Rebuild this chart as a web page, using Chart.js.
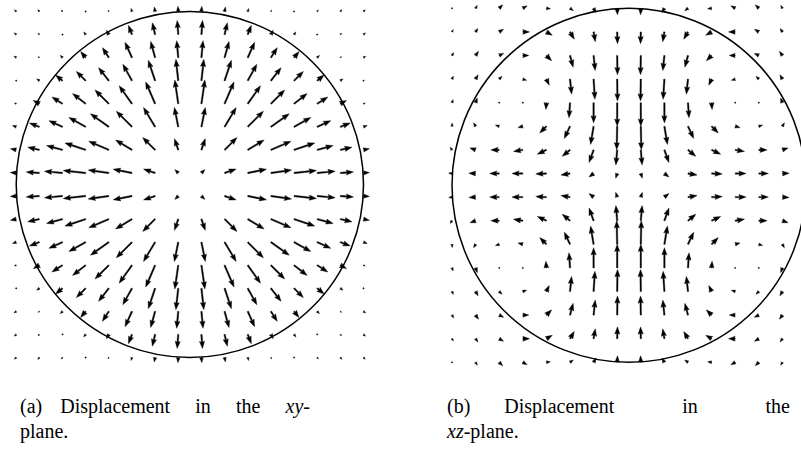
<!DOCTYPE html>
<html>
<head>
<meta charset="utf-8">
<title>Displacement fields</title>
<script src="https://cdn.jsdelivr.net/npm/chart.js@4.4.1/dist/chart.umd.min.js"></script>
<style>
  html, body { margin: 0; padding: 0; background: #fff; width: 801px; height: 457px; overflow: hidden; }
  canvas { position: absolute; top: 0; }
  #chartA { left: 0; }
  #chartB { left: 420px; }
  .caption { position: absolute; font-family: "Liberation Serif", "Times New Roman", serif; font-size: 20px; line-height: 24px; color: #000; white-space: nowrap; }
  .line { display: flex; }
  .words { display: flex; flex: 1; justify-content: space-between; }
  .math { font-style: italic; }
</style>
</head>
<body>
<canvas id="chartA" width="400" height="375"></canvas>
<canvas id="chartB" width="420" height="375"></canvas>

<div class="caption" style="left:20px; top:394px; width:290px">
  <div class="line"><span style="margin-right:18px">(a)</span>
    <div class="words"><span>Displacement</span><span>in</span><span>the</span><span><span class="math">xy</span>-</span></div></div>
</div>
<div class="caption" style="left:20px; top:419px">plane.</div>

<div class="caption" style="left:447px; top:394px; width:343px">
  <div class="line"><span style="margin-right:34px">(b)</span>
    <div class="words"><span>Displacement</span><span>in</span><span>the</span></div></div>
</div>
<div class="caption" style="left:447px; top:419px"><span class="math">xz</span>-plane.</div>

<script>
// sample grid, left to right / top to bottom
const gridX = [-1, -0.8667, -0.7333, -0.6, -0.4667, -0.3333, -0.2, -0.0667, 0.0667, 0.2, 0.3333, 0.4667, 0.6, 0.7333, 0.8667, 1];
const gridY = [1, 0.8667, 0.7333, 0.6, 0.4667, 0.3333, 0.2, 0.0667, -0.0667, -0.2, -0.3333, -0.4667, -0.6, -0.7333, -0.8667, -1];
const RADIUS = 1;

// (a) xy-plane displacement, one row per gridY
const xyU = [
  [-1.8, -1.6, -1.2, -0.7, -0.7, -1.0, -0.9, -0.4, 0.4, 0.9, 1.0, 0.7, 0.7, 1.2, 1.6, 1.8],
  [-2.0, -1.4, -0.8, -1.9, -2.4, -3.6, -2.8, -1.1, 1.1, 2.8, 3.6, 2.4, 1.9, 0.8, 1.4, 2.0],
  [-2.2, -1.3, -2.3, -5.1, -6.4, -7.0, -4.5, -1.6, 1.6, 4.5, 7.0, 6.4, 5.1, 2.3, 1.3, 2.2],
  [-1.1, -2.7, -7.0, -9.4, -10.3, -9.2, -6.9, -2.4, 2.4, 6.9, 9.2, 10.3, 9.4, 7.0, 2.7, 1.1],
  [-1.8, -6.2, -10.7, -13.2, -13.9, -12.9, -9.5, -3.5, 3.5, 9.5, 12.9, 13.9, 13.2, 10.7, 6.2, 1.8],
  [-3.8, -10.0, -13.7, -16.9, -18.5, -15.8, -11.7, -3.9, 3.9, 11.7, 15.8, 18.5, 16.9, 13.7, 10.0, 3.8],
  [-5.9, -11.7, -16.1, -20.9, -20.2, -16.5, -12.5, -3.8, 3.8, 12.5, 16.5, 20.2, 20.9, 16.1, 11.7, 5.9],
  [-6.0, -13.3, -18.2, -22.6, -20.8, -18.9, -11.7, -3.5, 3.5, 11.7, 18.9, 20.8, 22.6, 18.2, 13.3, 6.0],
  [-6.0, -13.3, -18.2, -22.6, -20.8, -18.9, -11.7, -3.5, 3.5, 11.7, 18.9, 20.8, 22.6, 18.2, 13.3, 6.0],
  [-5.9, -11.7, -16.1, -20.9, -20.2, -16.5, -12.5, -3.8, 3.8, 12.5, 16.5, 20.2, 20.9, 16.1, 11.7, 5.9],
  [-3.8, -10.0, -13.7, -16.9, -18.5, -15.8, -11.7, -3.9, 3.9, 11.7, 15.8, 18.5, 16.9, 13.7, 10.0, 3.8],
  [-1.8, -6.2, -10.7, -13.2, -13.9, -12.9, -9.5, -3.5, 3.5, 9.5, 12.9, 13.9, 13.2, 10.7, 6.2, 1.8],
  [-1.1, -2.7, -7.0, -9.4, -10.3, -9.2, -6.9, -2.4, 2.4, 6.9, 9.2, 10.3, 9.4, 7.0, 2.7, 1.1],
  [-2.2, -1.3, -2.3, -5.1, -6.4, -7.0, -4.5, -1.6, 1.6, 4.5, 7.0, 6.4, 5.1, 2.3, 1.3, 2.2],
  [-2.0, -1.4, -0.8, -1.9, -2.4, -3.6, -2.8, -1.1, 1.1, 2.8, 3.6, 2.4, 1.9, 0.8, 1.4, 2.0],
  [-1.8, -1.6, -1.2, -0.7, -0.7, -1.0, -0.9, -0.4, 0.4, 0.9, 1.0, 0.7, 0.7, 1.2, 1.6, 1.8]
];
const xyV = [
  [1.8, 1.9, 1.6, 1.1, 1.5, 3.1, 4.6, 5.3, 5.3, 4.6, 3.1, 1.5, 1.1, 1.6, 1.9, 1.8],
  [1.8, 1.4, 1.0, 2.7, 4.4, 9.3, 12.0, 14.3, 14.3, 12.0, 9.3, 4.4, 2.7, 1.0, 1.4, 1.8],
  [1.6, 1.1, 2.3, 6.2, 10.1, 15.5, 16.4, 17.2, 17.2, 16.4, 15.5, 10.1, 6.2, 2.3, 1.1, 1.6],
  [0.7, 1.9, 5.7, 9.4, 13.2, 16.6, 20.6, 21.6, 21.6, 20.6, 16.6, 13.2, 9.4, 5.7, 1.9, 0.7],
  [0.8, 3.3, 6.8, 10.3, 13.9, 18.2, 22.1, 24.1, 24.1, 22.1, 18.2, 13.9, 10.3, 6.8, 3.3, 0.8],
  [1.3, 3.8, 6.2, 9.4, 13.2, 15.8, 19.5, 19.6, 19.6, 19.5, 15.8, 13.2, 9.4, 6.2, 3.8, 1.3],
  [1.2, 2.7, 4.4, 7.0, 8.7, 9.9, 12.5, 11.4, 11.4, 12.5, 9.9, 8.7, 7.0, 4.4, 2.7, 1.2],
  [0.4, 1.0, 1.7, 2.5, 3.0, 3.8, 3.9, 3.5, 3.5, 3.9, 3.8, 3.0, 2.5, 1.7, 1.0, 0.4],
  [-0.4, -1.0, -1.7, -2.5, -3.0, -3.8, -3.9, -3.5, -3.5, -3.9, -3.8, -3.0, -2.5, -1.7, -1.0, -0.4],
  [-1.2, -2.7, -4.4, -7.0, -8.7, -9.9, -12.5, -11.4, -11.4, -12.5, -9.9, -8.7, -7.0, -4.4, -2.7, -1.2],
  [-1.3, -3.8, -6.2, -9.4, -13.2, -15.8, -19.5, -19.6, -19.6, -19.5, -15.8, -13.2, -9.4, -6.2, -3.8, -1.3],
  [-0.8, -3.3, -6.8, -10.3, -13.9, -18.2, -22.1, -24.1, -24.1, -22.1, -18.2, -13.9, -10.3, -6.8, -3.3, -0.8],
  [-0.7, -1.9, -5.7, -9.4, -13.2, -16.6, -20.6, -21.6, -21.6, -20.6, -16.6, -13.2, -9.4, -5.7, -1.9, -0.7],
  [-1.6, -1.1, -2.3, -6.2, -10.1, -15.5, -16.4, -17.2, -17.2, -16.4, -15.5, -10.1, -6.2, -2.3, -1.1, -1.6],
  [-1.8, -1.4, -1.0, -2.7, -4.4, -9.3, -12.0, -14.3, -14.3, -12.0, -9.3, -4.4, -2.7, -1.0, -1.4, -1.8],
  [-1.8, -1.9, -1.6, -1.1, -1.5, -3.1, -4.6, -5.3, -5.3, -4.6, -3.1, -1.5, -1.1, -1.6, -1.9, -1.8]
];

// (b) xz-plane displacement
const xzU = [
  [0.3, 1.7, 3.5, 4.3, 4.0, 3.3, 2.5, 0.3, -0.3, -2.5, -3.3, -4.0, -4.3, -3.5, -1.7, -0.3],
  [1.3, 2.3, 4.3, 6.7, 5.8, 4.2, 1.7, 0.3, -0.3, -1.7, -4.2, -5.8, -6.7, -4.3, -2.3, -1.3],
  [1.7, 2.9, 4.5, 6.0, 5.2, 3.1, 1.6, 0.3, -0.3, -1.6, -3.1, -5.2, -6.0, -4.5, -2.9, -1.7],
  [1.4, 2.5, 2.8, 3.8, 2.8, 1.6, 1.3, 0.3, -0.3, -1.3, -1.6, -2.8, -3.8, -2.8, -2.5, -1.4],
  [1.1, 1.7, 0.5, 0.3, -0.5, -1.0, 0.0, 0.0, 0.0, 0.0, 1.0, 0.5, -0.3, -0.5, -1.7, -1.1],
  [0.2, -2.0, -3.8, -4.8, -6.6, -5.6, -3.0, -0.5, 0.5, 3.0, 5.6, 6.6, 4.8, 3.8, 2.0, -0.2],
  [-1.9, -5.6, -8.3, -9.2, -9.0, -7.7, -4.5, -1.3, 1.3, 4.5, 7.7, 9.0, 9.2, 8.3, 5.6, 1.9],
  [-3.3, -6.7, -9.5, -10.8, -10.5, -9.0, -4.5, -1.5, 1.5, 4.5, 9.0, 10.5, 10.8, 9.5, 6.7, 3.3],
  [-3.3, -6.7, -9.5, -10.8, -10.5, -9.0, -4.5, -1.5, 1.5, 4.5, 9.0, 10.5, 10.8, 9.5, 6.7, 3.3],
  [-1.9, -5.6, -8.3, -9.2, -9.0, -7.7, -4.5, -1.3, 1.3, 4.5, 7.7, 9.0, 9.2, 8.3, 5.6, 1.9],
  [0.2, -2.0, -3.8, -4.8, -6.6, -5.6, -3.0, -0.5, 0.5, 3.0, 5.6, 6.6, 4.8, 3.8, 2.0, -0.2],
  [1.1, 1.7, 0.5, 0.3, -0.5, -1.0, 0.0, 0.0, 0.0, 0.0, 1.0, 0.5, -0.3, -0.5, -1.7, -1.1],
  [1.4, 2.5, 2.8, 3.8, 2.8, 1.6, 1.3, 0.3, -0.3, -1.3, -1.6, -2.8, -3.8, -2.8, -2.5, -1.4],
  [1.7, 2.9, 4.5, 6.0, 5.2, 3.1, 1.6, 0.3, -0.3, -1.6, -3.1, -5.2, -6.0, -4.5, -2.9, -1.7],
  [1.3, 2.3, 4.3, 6.7, 5.8, 4.2, 1.7, 0.3, -0.3, -1.7, -4.2, -5.8, -6.7, -4.3, -2.3, -1.3],
  [0.3, 1.7, 3.5, 4.3, 4.0, 3.3, 2.5, 0.3, -0.3, -2.5, -3.3, -4.0, -4.3, -3.5, -1.7, -0.3]
];
const xzV = [
  [0.2, 2.9, 3.5, 2.5, -0.5, -2.3, -4.3, -6.5, -6.5, -4.3, -2.3, -0.5, 2.5, 3.5, 2.9, 0.2],
  [2.3, 3.3, 2.5, 0.0, -3.3, -7.2, -9.8, -11.7, -11.7, -9.8, -7.2, -3.3, 0.0, 2.5, 3.3, 2.3],
  [2.9, 4.1, 2.1, 0.0, -5.2, -11.6, -14.9, -19.0, -19.0, -14.9, -11.6, -5.2, 0.0, 2.1, 4.1, 2.9],
  [3.0, 4.3, 2.8, -1.2, -6.0, -14.9, -20.0, -21.7, -21.7, -20.0, -14.9, -6.0, -1.2, 2.8, 4.3, 3.0],
  [3.1, 4.7, 1.2, -1.3, -6.7, -15.0, -20.0, -23.3, -23.3, -20.0, -15.0, -6.7, -1.3, 1.2, 4.7, 3.1],
  [3.3, 3.5, 1.2, -1.3, -6.6, -12.0, -18.0, -23.3, -23.3, -18.0, -12.0, -6.6, -1.3, 1.2, 3.5, 3.3],
  [2.7, 2.0, 0.0, -1.5, -4.2, -6.4, -12.5, -15.0, -15.0, -12.5, -6.4, -4.2, -1.5, 0.0, 2.0, 2.7],
  [0.5, 0.3, 0.0, 0.0, -0.5, -1.5, -3.5, -4.7, -4.7, -3.5, -1.5, -0.5, 0.0, 0.0, 0.3, 0.5],
  [-0.5, -0.3, 0.0, 0.0, 0.5, 1.5, 3.5, 4.7, 4.7, 3.5, 1.5, 0.5, 0.0, 0.0, -0.3, -0.5],
  [-2.7, -2.0, 0.0, 1.5, 4.2, 6.4, 12.5, 15.0, 15.0, 12.5, 6.4, 4.2, 1.5, 0.0, -2.0, -2.7],
  [-3.3, -3.5, -1.2, 1.3, 6.6, 12.0, 18.0, 23.3, 23.3, 18.0, 12.0, 6.6, 1.3, -1.2, -3.5, -3.3],
  [-3.1, -4.7, -1.2, 1.3, 6.7, 15.0, 20.0, 23.3, 23.3, 20.0, 15.0, 6.7, 1.3, -1.2, -4.7, -3.1],
  [-3.0, -4.3, -2.8, 1.2, 6.0, 14.9, 20.0, 21.7, 21.7, 20.0, 14.9, 6.0, 1.2, -2.8, -4.3, -3.0],
  [-2.9, -4.1, -2.1, 0.0, 5.2, 11.6, 14.9, 19.0, 19.0, 14.9, 11.6, 5.2, 0.0, -2.1, -4.1, -2.9],
  [-2.3, -3.3, -2.5, 0.0, 3.3, 7.2, 9.8, 11.7, 11.7, 9.8, 7.2, 3.3, 0.0, -2.5, -3.3, -2.3],
  [-0.2, -2.9, -3.5, -2.5, 0.5, 2.3, 4.3, 6.5, 6.5, 4.3, 2.3, 0.5, -2.5, -3.5, -2.9, -0.2]
];

const ARROW_SCALE = 1 / 175;   // data units per displacement unit
const SHAFT = 1.45;            // shaft width in px, head sizes below are in shaft widths
const HEAD_W = 3.6, HEAD_L = 5, HEAD_AXIS = 4.5;

function buildPoints(u, v) {
  const pts = [];
  gridY.forEach((gy, j) => {
    gridX.forEach((gx, i) => {
      pts.push({ x: gx, y: gy, u: u[j][i], v: v[j][i] });
    });
  });
  return pts;
}

// quiver-style arrow, tail at (x0, y0)
function drawArrow(ctx, x0, y0, x1, y1) {
  const len = Math.hypot(x1 - x0, y1 - y0) / SHAFT;
  let poly;
  if (len < 1) {
    poly = [];
    for (let k = 0; k < 6; k++) {
      poly.push([Math.cos(k * Math.PI / 3) * 0.5, Math.sin(k * Math.PI / 3) * 0.5]);
    }
  } else if (len < HEAD_L) {
    const s = len / HEAD_L;
    poly = [[0, 0.5], [HEAD_L - HEAD_AXIS, 0.5], [0, HEAD_W / 2], [HEAD_L, 0],
            [0, -HEAD_W / 2], [HEAD_L - HEAD_AXIS, -0.5], [0, -0.5]]
      .map(p => [p[0] * s, p[1] * s]);
  } else {
    poly = [[0, 0.5], [len - HEAD_AXIS, 0.5], [len - HEAD_L, HEAD_W / 2], [len, 0],
            [len - HEAD_L, -HEAD_W / 2], [len - HEAD_AXIS, -0.5], [0, -0.5]];
  }
  ctx.save();
  ctx.translate(x0, y0);
  ctx.rotate(Math.atan2(y1 - y0, x1 - x0));
  ctx.scale(SHAFT, SHAFT);
  ctx.beginPath();
  poly.forEach((p, k) => k ? ctx.lineTo(p[0], p[1]) : ctx.moveTo(p[0], p[1]));
  ctx.closePath();
  ctx.fillStyle = '#000';
  ctx.fill();
  ctx.lineWidth = 0.25;
  ctx.strokeStyle = '#000';
  ctx.stroke();
  ctx.restore();
}

const quiverPlugin = {
  id: 'quiver',
  afterDatasetsDraw(chart) {
    const ctx = chart.ctx;
    const xs = chart.scales.x, ys = chart.scales.y;
    ctx.save();

    // domain boundary
    const cx = xs.getPixelForValue(0), cy = ys.getPixelForValue(0);
    ctx.beginPath();
    ctx.ellipse(cx, cy, xs.getPixelForValue(RADIUS) - cx, cy - ys.getPixelForValue(RADIUS), 0, 0, Math.PI * 2);
    ctx.lineWidth = 1.5;
    ctx.strokeStyle = '#000';
    ctx.stroke();

    chart.data.datasets[0].data.forEach(p => {
      drawArrow(ctx,
        xs.getPixelForValue(p.x), ys.getPixelForValue(p.y),
        xs.getPixelForValue(p.x + p.u * ARROW_SCALE), ys.getPixelForValue(p.y + p.v * ARROW_SCALE));
    });
    ctx.restore();
  }
};

function makeChart(id, u, v, padding) {
  return new Chart(document.getElementById(id), {
    type: 'scatter',
    data: { datasets: [{ data: buildPoints(u, v), pointRadius: 0 }] },
    options: {
      responsive: false,
      animation: false,
      layout: { padding: padding },
      plugins: { legend: { display: false }, tooltip: { enabled: false } },
      scales: {
        x: { type: 'linear', min: -1, max: 1, display: false },
        y: { type: 'linear', min: -1, max: 1, display: false }
      }
    },
    plugins: [quiverPlugin]
  });
}

makeChart('chartA', xyU, xyV, { left: 16.2, right: 36.5, top: 11.5, bottom: 17.5 });
makeChart('chartB', xzU, xzV, { left: 32, right: 34, top: 8.3, bottom: 12.7 });
</script>
</body>
</html>
